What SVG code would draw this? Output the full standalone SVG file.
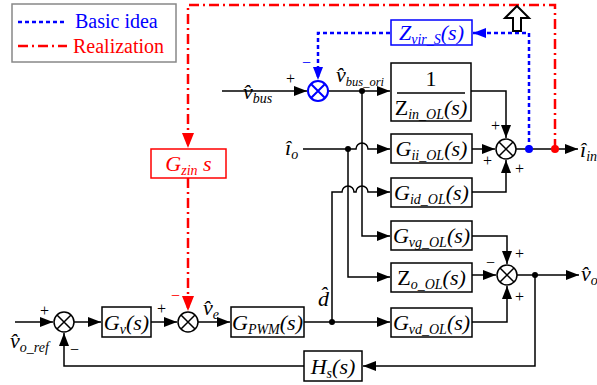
<svg xmlns="http://www.w3.org/2000/svg" width="597" height="385" viewBox="0 0 597 385">
<defs>
<style>
.ln{stroke:#000;stroke-width:1.5;fill:none}
.box{fill:#fff;stroke:#000;stroke-width:1.5}
.t{font-style:italic;font-size:22px;fill:#000}
.s{font-size:14px}
.up{font-style:normal}
.sg{font-size:16px;fill:#000}
.lg{font-size:20px}
.blue{stroke:#0000ff;stroke-width:2.5;fill:none;stroke-dasharray:4 3}
.red{stroke:#ff0000;stroke-width:2.5;fill:none;stroke-dasharray:10 4 2 4}
</style>
<marker id="a" markerUnits="userSpaceOnUse" markerWidth="14" markerHeight="10" refX="13" refY="5" orient="auto"><path d="M0,0 L13,5 L0,10 Z" fill="#000"/></marker>
<marker id="ab" markerUnits="userSpaceOnUse" markerWidth="14" markerHeight="10" refX="13" refY="5" orient="auto"><path d="M0,0 L13,5 L0,10 Z" fill="#0000ff"/></marker>
<marker id="ar" markerUnits="userSpaceOnUse" markerWidth="16" markerHeight="12" refX="15" refY="6" orient="auto"><path d="M0,0 L15,6 L0,12 Z" fill="#ff0000"/></marker>
</defs>
<rect width="597" height="385" fill="#fff"/>

<g id="legend">
<rect x="12" y="4" width="164" height="58" fill="#fff" stroke="#888" stroke-width="1.5"/>
<line x1="18" y1="22" x2="67" y2="22" class="blue"/>
<text class="lg" font-family="Liberation Serif" x="75" y="28" fill="#0000ff">Basic idea</text>
<line x1="18" y1="46" x2="67" y2="46" class="red"/>
<text class="lg" font-family="Liberation Serif" x="73" y="53" fill="#ff0000">Realization</text>
</g>

<g id="connectors">
<path class="ln" d="M15,322 H53" marker-end="url(#a)"/>
<path class="ln" d="M74,322 H101" marker-end="url(#a)"/>
<path class="ln" d="M151,322 H177" marker-end="url(#a)"/>
<path class="ln" d="M198,322 H230" marker-end="url(#a)"/>
<path class="ln" d="M304,322 H390" marker-end="url(#a)"/>
<path class="ln" d="M535,275 V366 H363" marker-end="url(#a)"/>
<path class="ln" d="M304,366 H64 V333" marker-end="url(#a)"/>
<path class="ln" d="M332,322 V192 H342 a6,6 0 0 1 12,0 H356 a6,6 0 0 1 12,0 H390" marker-end="url(#a)"/>
<path class="ln" d="M222,91 H307" marker-end="url(#a)"/>
<path class="ln" d="M328,91 H390" marker-end="url(#a)"/>
<path class="ln" d="M362,91 V236 H390" marker-end="url(#a)"/>
<path class="ln" d="M303,149 H356 a6,6 0 0 1 12,0 H390" marker-end="url(#a)"/>
<path class="ln" d="M348,149 V277 H390" marker-end="url(#a)"/>
<path class="ln" d="M471,91 H506 V138" marker-end="url(#a)"/>
<path class="ln" d="M472,149 H495" marker-end="url(#a)"/>
<path class="ln" d="M472,192 H506 V160" marker-end="url(#a)"/>
<path class="ln" d="M516,149 H578" marker-end="url(#a)"/>
<path class="ln" d="M472,236 H507 V264" marker-end="url(#a)"/>
<path class="ln" d="M472,275 H496" marker-end="url(#a)"/>
<path class="ln" d="M472,322 H507 V286" marker-end="url(#a)"/>
<path class="ln" d="M517,275 H579" marker-end="url(#a)"/>
<path class="blue" d="M529,149 V33 H473" marker-end="url(#ab)"/>
<path class="blue" d="M390,33 H318 V80" marker-end="url(#ab)"/>
<path class="red" d="M555,149 V5 H188 V148" marker-end="url(#ar)"/>
<path class="red" d="M188,178 V311" marker-end="url(#ar)"/>
<circle cx="362" cy="91" r="3" fill="#000"/>
<circle cx="348" cy="149" r="3" fill="#000"/>
<circle cx="332" cy="322" r="3" fill="#000"/>
<circle cx="535" cy="275" r="3" fill="#000"/>
<circle cx="529" cy="149" r="4" fill="#0000ff"/>
<circle cx="555" cy="149" r="4" fill="#ff0000"/>
<path d="M517,6 L529,18 L521,18 L521,31 L513,31 L513,18 L505,18 Z" fill="#fff" stroke="#000" stroke-width="2"/>
</g>

<g id="sum1"><circle cx="64" cy="322" r="10" class="ln"/><path class="ln" d="M57,315 L71,329 M71,315 L57,329"/></g>
<g id="sum2"><circle cx="188" cy="322" r="10" class="ln"/><path class="ln" d="M181,315 L195,329 M195,315 L181,329"/></g>
<g id="sum_vbus"><circle cx="318" cy="91" r="10" fill="none" stroke="#0000ff" stroke-width="2"/><path fill="none" stroke="#0000ff" stroke-width="2" d="M311,84 L325,98 M325,84 L311,98"/></g>
<g id="sum_i"><circle cx="506" cy="149" r="10" class="ln"/><path class="ln" d="M499,142 L513,156 M513,142 L499,156"/></g>
<g id="sum_v"><circle cx="507" cy="275" r="10" class="ln"/><path class="ln" d="M500,268 L514,282 M514,268 L500,282"/></g>

<g id="Gv"><rect class="box" x="102" y="307" width="49" height="30"/><text class="t" font-family="Liberation Serif" x="126.5" y="330" text-anchor="middle">G<tspan class="s" dy="4">v</tspan><tspan dy="-4">(s)</tspan></text></g>
<g id="Gpwm"><rect class="box" x="231" y="307" width="73" height="30"/><text class="t" font-family="Liberation Serif" x="267.5" y="330" text-anchor="middle">G<tspan class="s" dy="4">PWM</tspan><tspan dy="-4">(s)</tspan></text></g>
<g id="Hs"><rect class="box" x="304" y="351" width="58" height="30"/><text class="t" font-family="Liberation Serif" x="333" y="374" text-anchor="middle">H<tspan class="s" dy="4">s</tspan><tspan dy="-4">(s)</tspan></text></g>
<g id="Gvd"><rect class="box" x="391" y="308" width="81" height="29"/><text class="t" font-family="Liberation Serif" x="431.5" y="330" text-anchor="middle">G<tspan class="s" dy="4">vd_OL</tspan><tspan dy="-4">(s)</tspan></text></g>
<g id="Zo"><rect class="box" x="391" y="263" width="81" height="29"/><text class="t" font-family="Liberation Serif" x="431.5" y="285" text-anchor="middle"><tspan class="up">Z</tspan><tspan class="s" dy="4">o_OL</tspan><tspan dy="-4">(s)</tspan></text></g>
<g id="Gvg"><rect class="box" x="391" y="221" width="81" height="29"/><text class="t" font-family="Liberation Serif" x="431.5" y="243" text-anchor="middle">G<tspan class="s" dy="4">vg_OL</tspan><tspan dy="-4">(s)</tspan></text></g>
<g id="Gid"><rect class="box" x="391" y="178" width="81" height="29"/><text class="t" font-family="Liberation Serif" x="431.5" y="200" text-anchor="middle">G<tspan class="s" dy="4">id_OL</tspan><tspan dy="-4">(s)</tspan></text></g>
<g id="Gii"><rect class="box" x="391" y="134" width="81" height="29"/><text class="t" font-family="Liberation Serif" x="431.5" y="156" text-anchor="middle">G<tspan class="s" dy="4">ii_OL</tspan><tspan dy="-4">(s)</tspan></text></g>
<g id="Zin"><rect class="box" x="391" y="63" width="80" height="58"/><text class="t up" font-family="Liberation Serif" x="431" y="86" text-anchor="middle">1</text><line x1="397" y1="93" x2="465" y2="93" stroke="#000" stroke-width="1.5"/><text class="t" font-family="Liberation Serif" x="431" y="115" text-anchor="middle"><tspan class="up">Z</tspan><tspan class="s" dy="4">in_OL</tspan><tspan dy="-4">(s)</tspan></text></g>
<g id="Zvir"><rect x="391" y="20" width="81" height="25" fill="#fff" stroke="#0000ff" stroke-width="1.5"/><text class="t" font-family="Liberation Serif" x="431.5" y="40" text-anchor="middle" style="fill:#0000ff">Z<tspan class="s" dy="4">vir_S</tspan><tspan dy="-4">(s)</tspan></text></g>
<g id="Gzin"><rect x="151" y="149" width="75" height="29" fill="#fff" stroke="#ff0000" stroke-width="1.5"/><text class="t" font-family="Liberation Serif" x="188.5" y="171" text-anchor="middle" style="fill:#ff0000">G<tspan class="s" dy="4">zin</tspan><tspan dy="-4"> s</tspan></text></g>

<g id="labels">
<text class="t" font-family="Liberation Serif" x="10" y="348">v̂<tspan class="s" dy="4">o_ref</tspan></text>
<text class="sg" font-family="Liberation Serif" x="40" y="316">+</text>
<text class="sg" font-family="Liberation Serif" x="70" y="355">−</text>
<text class="sg" font-family="Liberation Serif" x="157" y="314">+</text>
<text class="sg" font-family="Liberation Serif" x="171" y="301" style="fill:#ff0000">−</text>
<text class="t" font-family="Liberation Serif" x="203" y="315">v̂<tspan class="s" dy="4">e</tspan></text>
<text class="t" font-family="Liberation Serif" x="318" y="306">d̂</text>
<text class="t" font-family="Liberation Serif" x="243" y="99">v̂<tspan class="s" dy="4">bus</tspan></text>
<text class="sg" font-family="Liberation Serif" x="286" y="84">+</text>
<text class="sg" font-family="Liberation Serif" x="302" y="68" style="fill:#0000ff">−</text>
<text class="t" font-family="Liberation Serif" x="336" y="82">v̂<tspan font-size="12.5" dy="4">bus_ori</tspan></text>
<text class="t" font-family="Liberation Serif" x="285" y="155">î<tspan class="s" dy="4">o</tspan></text>
<text class="t" font-family="Liberation Serif" x="580" y="157">î<tspan class="s" dy="4">in</tspan></text>
<text class="t" font-family="Liberation Serif" x="581" y="281">v̂<tspan class="s" dy="4">o</tspan></text>
<text class="sg" font-family="Liberation Serif" x="491" y="131">+</text>
<text class="sg" font-family="Liberation Serif" x="483" y="166">+</text>
<text class="sg" font-family="Liberation Serif" x="515" y="174">+</text>
<text class="sg" font-family="Liberation Serif" x="486" y="268">−</text>
<text class="sg" font-family="Liberation Serif" x="515" y="259">+</text>
<text class="sg" font-family="Liberation Serif" x="515" y="302">+</text>
</g>
</svg>
